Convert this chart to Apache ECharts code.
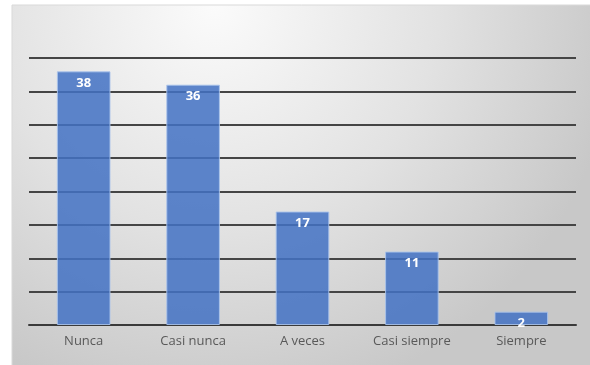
<!DOCTYPE html>
<html>
<head>
<meta charset="utf-8">
<script src="https://cdn.jsdelivr.net/npm/echarts@6/dist/echarts.min.js"></script>
<style>
  html, body { margin: 0; padding: 0; background: #ffffff; }
  #chart { width: 590px; height: 365px; }
</style>
</head>
<body>
<div id="chart"></div>
<script>
// Frequency of responses per answer option
const categories = ['Nunca', 'Casi nunca', 'A veces', 'Casi siempre', 'Siempre'];
const counts = [38, 36, 17, 11, 2];
const yMin = 0;
const yMax = 40;
const yStep = 5;

const chart = echarts.init(document.getElementById('chart'), null, { renderer: 'canvas' });

chart.setOption({
  animation: false,
  graphic: [{
    type: 'rect',
    z: -10,
    silent: true,
    shape: { x: 12, y: 5, width: 580, height: 370 },
    style: {
      fill: {
        type: 'radial', x: 0.35, y: 0.0, r: 1.1,
        colorStops: [
          { offset: 0, color: '#fbfbfb' },
          { offset: 0.55, color: '#e2e2e2' },
          { offset: 1, color: '#c8c8c8' }
        ]
      },
      stroke: '#d9d9d9',
      lineWidth: 1
    }
  }],
  grid: { left: 29, right: 14, top: 58, bottom: 40, containLabel: false },
  xAxis: {
    type: 'category',
    data: categories,
    axisTick: { show: false },
    axisLine: { show: true, lineStyle: { color: '#3a3a3a', width: 2 } },
    axisLabel: {
      color: '#595959',
      fontSize: 13,
      fontFamily: 'Open Sans, Lato, sans-serif',
      margin: 10
    }
  },
  yAxis: {
    type: 'value',
    min: yMin,
    max: yMax,
    interval: yStep,
    axisLabel: { show: false },
    axisLine: { show: false },
    axisTick: { show: false },
    splitLine: { lineStyle: { color: '#454545', width: 1.8 } }
  },
  series: [{
    type: 'bar',
    data: counts,
    barWidth: '49%',
    itemStyle: {
      color: 'rgba(68,114,196,0.86)',
      borderColor: 'rgba(170,195,235,0.9)',
      borderWidth: 1
    },
    label: {
      show: true,
      position: 'insideTop',
      distance: 5,
      color: '#ffffff',
      fontWeight: 'bold',
      fontSize: 13,
      fontFamily: 'Open Sans, Lato, sans-serif'
    }
  }]
});
</script>
</body>
</html>
